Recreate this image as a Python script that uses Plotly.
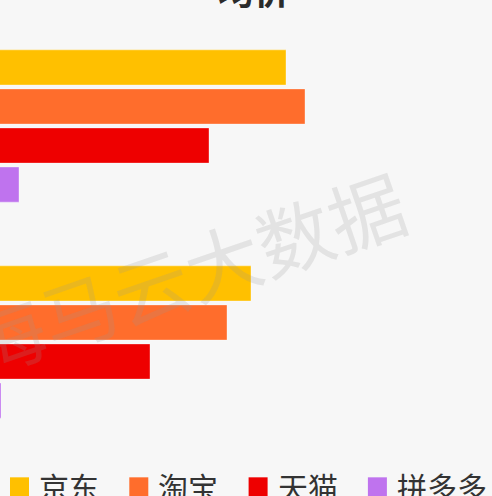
import plotly.graph_objects as go

# ---- data ----
categories = ["类目一", "类目二"]
platforms = ["京东", "淘宝", "天猫", "拼多多"]
colors = ["#FFC000", "#FF6D2C", "#EE0000", "#BF73EE"]
jd_values = [336, 301]
tb_values = [355, 277]
tm_values = [259, 200]
pdd_values = [69, 51]
series_values = [jd_values, tb_values, tm_values, pdd_values]
x_range = [50, 542]
title_text = "均价"
watermark_text = "海马云大数据"

W, H = 492, 496
mt, mb = 18, 46.3
plot_h = H - mt - mb

def py(p):  # pixel from top -> paper y
    return (H - mb - p) / plot_h

def px(p):
    return p / W

fig = go.Figure()
for name, vals, col in zip(platforms, series_values, colors):
    fig.add_trace(go.Bar(
        y=categories, x=vals, name=name, orientation="h",
        marker=dict(color=col, line=dict(color="rgba(255,255,255,0.35)", width=1)),
        showlegend=False,
    ))

annotations = []
# title (cropped at top)
annotations.append(dict(
    text=title_text, xref="paper", yref="paper", x=px(254), y=py(17),
    xanchor="center", yanchor="bottom", showarrow=False,
    font=dict(family="Noto Sans CJK SC", size=36, color="#2b2b2b", weight="bold"),
))
# watermark
annotations.append(dict(
    text=watermark_text, xref="paper", yref="paper", x=px(186), y=py(271),
    xanchor="center", yanchor="middle", showarrow=False, textangle=-19,
    font=dict(family="Noto Sans CJK SC", size=76, color="rgba(150,150,150,0.2)"),
))

shapes = []
for i, (name, col) in enumerate(zip(platforms, colors)):
    x0 = 10 + i * 119.3
    shapes.append(dict(type="rect", xref="paper", yref="paper",
                       x0=px(x0), x1=px(x0 + 19), y0=py(496), y1=py(477),
                       fillcolor=col, line=dict(width=0)))
    annotations.append(dict(
        text=name, xref="paper", yref="paper", x=px(x0 + 27), y=py(486),
        xanchor="left", yanchor="middle", showarrow=False,
        font=dict(family="Noto Sans CJK SC", size=30, color="#333333"),
    ))

fig.update_layout(
    width=W, height=H,
    margin=dict(l=0, r=0, t=mt, b=mb, pad=0),
    paper_bgcolor="#F7F7F7", plot_bgcolor="#F7F7F7",
    barmode="group", bargap=0.277, bargroupgap=0.1,
    xaxis=dict(range=x_range, showgrid=False, zeroline=False,
               showticklabels=False, showline=False, fixedrange=True),
    yaxis=dict(autorange="reversed", showgrid=False, zeroline=False,
               showticklabels=False, showline=False),
    annotations=annotations, shapes=shapes,
    showlegend=False,
)

fig.write_html(
    "out.html",
    config={"displayModeBar": False},
    post_script="document.body.style.margin='0';document.body.style.padding='0';document.body.style.overflow='hidden';",
)
